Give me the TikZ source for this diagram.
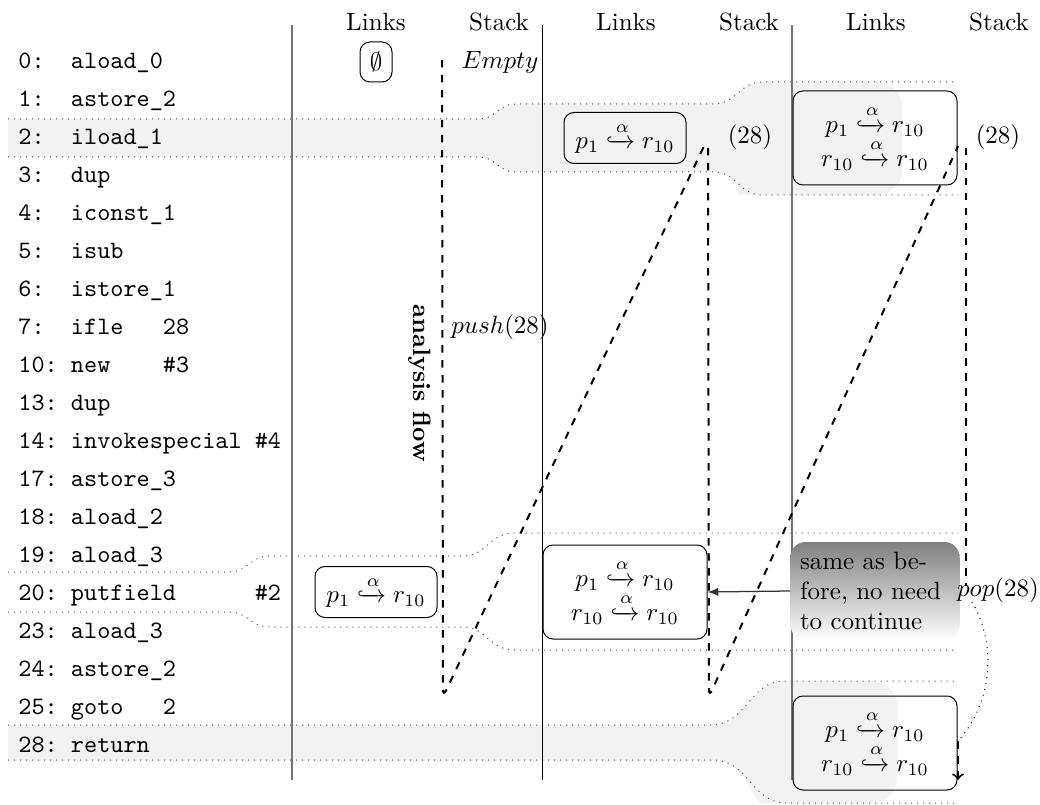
\documentclass[tikz,border=0pt]{standalone}
\usepackage{amsmath}
\usepackage{mathtools}
\usepackage{amssymb}
\usepackage{tikz}
\usetikzlibrary{positioning, calc, arrows}

\newcommand{\alink}[2]{#1 \xhookrightarrow{\alpha} #2}

\begin{document}
\begin{tikzpicture}[x=0.4pt, y=-0.4pt]
		\tikzstyle{code}=[anchor=base west, inner sep=0pt, font=\ttfamily]
		\tikzstyle{links}=[draw=black, rounded corners=4pt, minimum height=20.4pt, minimum width=48.8pt, inner sep=2pt]
		\tikzstyle{linkstwo}=[links, minimum height=37.6pt, minimum width=65.6pt, align=center]
		\tikzstyle{flow}=[dashed, line width=0.8pt]
		\tikzstyle{band}=[dotted, black!70]
		\tikzstyle{col}=[black!55, line width=0.6pt]

		\useasboundingbox (0,0) rectangle (1040,805);

		% shaded rows
		\fill[gray!10] (8,119) -- (478,119) .. controls (497,119) and (497,104) .. (516,104) -- (713,104) .. controls (738,104) and (738,82) .. (763,82) [rounded corners=10] -- (902,82) -- (902,195) -- (763,195) [sharp corners] .. controls (738,195) and (738,172) .. (713,172) -- (516,172) .. controls (497,172) and (497,157) .. (478,157) -- (8,157) -- cycle;
		\fill[gray!10] (8,725) -- (710,725) .. controls (748,725) and (748,681) .. (785,681) [rounded corners=10] -- (897,681) -- (897,803) -- (787,803) [sharp corners] .. controls (750,803) and (750,760) .. (712,760) -- (8,760) -- cycle;

		\draw[band] (8,119) -- (478,119) .. controls (497,119) and (497,104) .. (516,104) -- (713,104) .. controls (738,104) and (738,82) .. (763,82) -- (958,82);
		\draw[band] (8,157) -- (478,157) .. controls (497,157) and (497,172) .. (516,172) -- (713,172) .. controls (738,172) and (738,195) .. (763,195) -- (958,195);
		\draw[band] (8,572) -- (229,572) .. controls (249,572) and (249,556) .. (270,556) -- (462,556) .. controls (488,556) and (488,533) .. (515,533) -- (958,533);
		\draw[band] (8,612) -- (229,612) .. controls (249,612) and (249,627) .. (270,627) -- (462,627) .. controls (488,627) and (488,650) .. (515,650) -- (958,650);
		\draw[band] (8,725) -- (710,725) .. controls (748,725) and (748,681) .. (785,681) -- (955,681);
		\draw[band] (8,760) -- (712,760) .. controls (750,760) and (750,803) .. (787,803) -- (955,803);

		\draw[col] (292,25) -- (292,780);
		\draw (542,25) -- (542,780);
		\draw[col] (792,25) -- (792,780);

		\foreach \c/\x in {1/376, 2/626, 3/876} {
			\node (links\c) at (\x,22) {Links};
			\node (stack\c) at (\x+123,22) {Stack};
		}

		\foreach \txt [count=\i from 0] in {{0:\ \ aload\_0}, {1:\ \ astore\_2}, {2:\ \ iload\_1}, {3:\ \ dup}, {4:\ \ iconst\_1}, {5:\ \ isub}, {6:\ \ istore\_1}, {7:\ \ ifle\ \ \ 28}, {10:\ new\ \ \ \ \#3}, {13:\ dup}, {14:\ invokespecial\ \#4}, {17:\ astore\_3}, {18:\ aload\_2}, {19:\ aload\_3}, {20:\ putfield\ \ \ \ \ \ \#2}, {23:\ aload\_3}, {24:\ astore\_2}, {25:\ goto\ \ \ 2}, {28:\ return}}
			\node (row\i) at (18,69+37.95*\i) [code] {\txt};

		\node (empty) at (376,62) [links, minimum width=12.8pt, minimum height=16pt, inner sep=1pt] {$\emptyset$};
		\node (linksA) at (625,138) [links] {$\alink{p_1}{r_{10}}$};
		\node (linksB) at (875,138) [linkstwo] {$\alink{p_1}{r_{10}}$\\$\alink{r_{10}}{r_{10}}$};
		\node (linksC) at (376,592) [links] {$\alink{p_1}{r_{10}}$};
		\node (linksD) at (625,592) [linkstwo] {$\alink{p_1}{r_{10}}$\\$\alink{r_{10}}{r_{10}}$};
		\node (linksE) at (875,743) [linkstwo] {$\alink{p_1}{r_{10}}$\\$\alink{r_{10}}{r_{10}}$};

		\node (stempty) at (500,62) {$Empty$};
		\node (push) at (500,327) {$push(28)$};
		\node (ret1) at (750,137) {$(28)$};
		\node (ret2) at (998,137) {$(28)$};

		% analysis flow
		\coordinate (s1top) at (442,60);
		\coordinate (s1bot) at (443,697);
		\coordinate (d1top) at (705,144);
		\coordinate (s2top) at (708,148);
		\coordinate (s2bot) at (709,697);
		\coordinate (d2top) at (958,146);
		\coordinate (s3top) at (966,148);
		\coordinate (s3bot) at (966,586);
		\coordinate (s3low) at (958,741);
		\coordinate (s3end) at (958,780);
		\draw[flow, rounded corners=3pt] (s1top) -- (s1bot) -- (d1top);
		\draw[flow, rounded corners=3pt] (s2top) -- (s2bot) -- (d2top);
		\draw[flow] (s3top) -- (s3bot);
		\draw[flow, ->] (s3low) -- (s3end);
		\draw[dotted] (972,602) .. controls (995,640) and (995,700) .. (s3low);
		\node (flowlbl) at (420,383) [rotate=-90, font=\bfseries] {analysis flow};

		\node (note) at (875,591) [rounded corners=6pt, top color=black!50, bottom color=white, minimum height=39.2pt, text width=60pt, inner sep=3.8pt, align=left] {same as be-\\fore, no need\\to continue};
		\node (pop) at (998,590) {$pop(28)$};
		\draw[-latex, black!80, line width=0.5pt] (note.west) -- (linksD.east);

\end{tikzpicture}
\end{document}
